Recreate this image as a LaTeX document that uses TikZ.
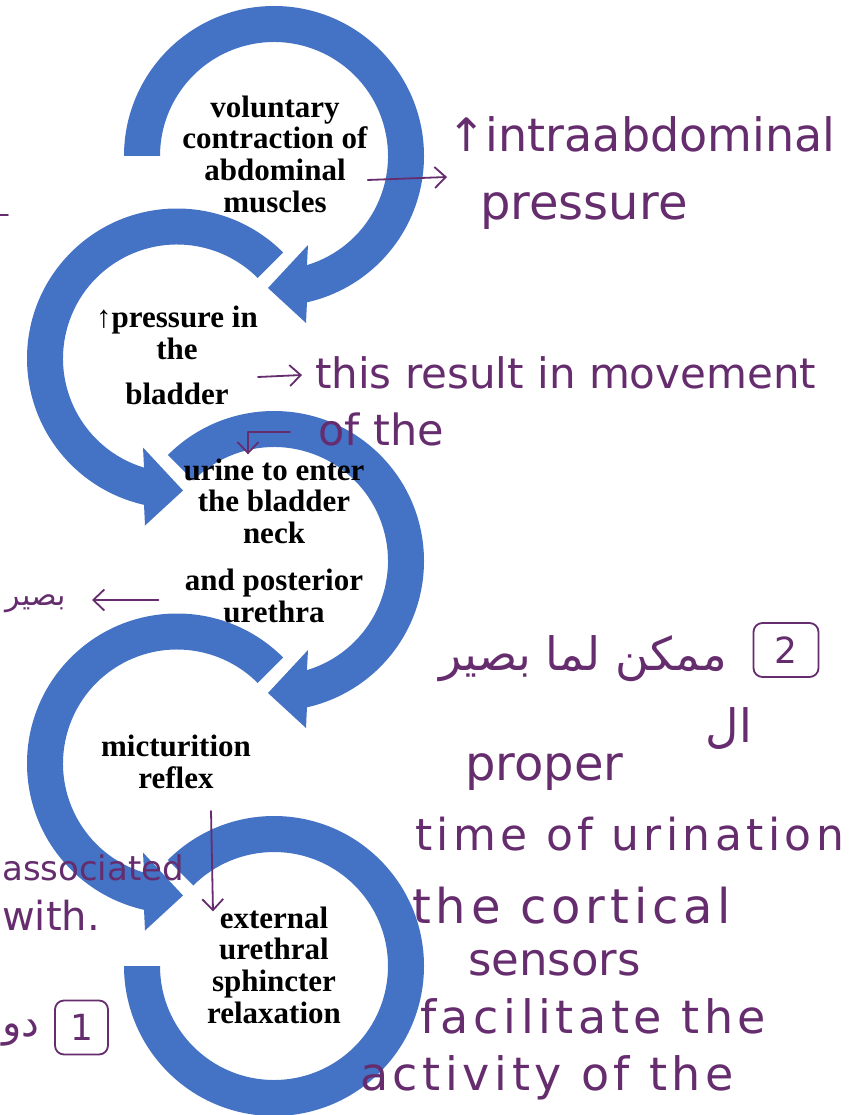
\documentclass[tikz,border=0pt]{standalone}
\usepackage{fontspec}
\setmainfont{Liberation Serif}
\newfontfamily\handfont{DejaVu Sans}
\newfontfamily\handwide{DejaVu Sans}[LetterSpace=10]
\newfontfamily\arabicfont[Script=Arabic]{DejaVu Sans}
\TeXXeTstate=1
\usetikzlibrary{arrows.meta}
\definecolor{ringblue}{HTML}{4472C4}
\definecolor{inkpurple}{RGB}{102,45,110}

\tikzset{
  ringarrow/.style={fill=ringblue},
  steptext/.style={font=\bfseries\fontsize{31}{31.7}\selectfont, align=center, inner sep=0pt},
  note/.style={anchor=base west, inner sep=0pt, text=inkpurple, font=\handfont\fontsize{#1}{#1}\selectfont},
  widenote/.style={anchor=base west, inner sep=0pt, text=inkpurple, font=\handwide\fontsize{#1}{#1}\selectfont},
  arabicnote/.style={anchor=base east, inner sep=0pt, text=inkpurple, font=\arabicfont\fontsize{#1}{#1}\selectfont},
  numbox/.style={draw=inkpurple, line width=1.8pt, rounded corners=9pt, inner sep=0pt, minimum height=54pt, text=inkpurple, font=\handfont\fontsize{36}{36}\selectfont},
  inkline/.style={draw=inkpurple, line width=1.8pt, line cap=round, line join=round},
  handarrow/.style={inkline, -{Straight Barb[length=11pt, width=21pt]}}
}

\begin{document}
\begin{tikzpicture}[x=1pt, y=1pt]
\useasboundingbox (0,0) rectangle (853,-1115);
\fill[white] (0,0) rectangle (853,-1115);

\coordinate (r1) at (274,-156);
\coordinate (r2) at (177,-358.5);
\coordinate (r3) at (274,-561);
\coordinate (r4) at (177,-763.5);
\coordinate (r5) at (274,-966);

\fill[ringarrow] ([shift={(180:150)}]r1) arc[start angle=180, end angle=-77.3, radius=150]
  -- ([shift={(32,-167)}]r1) -- ([shift={(-6,-132)}]r1) -- ([shift={(34,-89)}]r1)
  -- ([shift={(-73.2:114)}]r1) arc[start angle=-73.2, end angle=180, radius=114] -- cycle;
\fill[ringarrow] ([shift={(45:150)}]r2) arc[start angle=45, end angle=257.3, radius=150]
  -- ([shift={(-32,-167)}]r2) -- ([shift={(6,-132)}]r2) -- ([shift={(-34,-89)}]r2)
  -- ([shift={(253.2:114)}]r2) arc[start angle=253.2, end angle=45, radius=114] -- cycle;
\fill[ringarrow] ([shift={(135:150)}]r3) arc[start angle=135, end angle=-77.3, radius=150]
  -- ([shift={(32,-167)}]r3) -- ([shift={(-6,-132)}]r3) -- ([shift={(34,-89)}]r3)
  -- ([shift={(-73.2:114)}]r3) arc[start angle=-73.2, end angle=135, radius=114] -- cycle;
\fill[ringarrow] ([shift={(45:150)}]r4) arc[start angle=45, end angle=257.3, radius=150]
  -- ([shift={(-32,-167)}]r4) -- ([shift={(6,-132)}]r4) -- ([shift={(-34,-89)}]r4)
  -- ([shift={(253.2:114)}]r4) arc[start angle=253.2, end angle=45, radius=114] -- cycle;
\fill[ringarrow] ([shift={(135:150)}]r5) arc[start angle=135, end angle=-180, radius=150]
  -- ([shift={(-180:114)}]r5) arc[start angle=-180, end angle=135, radius=114] -- cycle;

\node[steptext] (voluntary) at (275,-154) {voluntary\\contraction of\\abdominal\\muscles};
\node[steptext] (pressure) at (177,-355.5) {↑pressure in\\the\\[13.3pt]bladder};
\node[steptext] (urine) at (274,-540.5) {urine to enter\\the bladder\\neck\\[15.3pt]and posterior\\urethra};
\node[steptext] (reflex) at (176,-762) {micturition\\reflex};
\node[steptext] (sphincter) at (274,-965) {external\\urethral\\sphincter\\relaxation};

\node[note=46] (intraabd) at (447,-152) {↑intraabdominal};
\node[note=48] (pressnote) at (480,-220) {pressure};
\node[note=42] (result) at (315,-388) {this result in movement};
\node[note=43] (ofthe) at (318,-445) {of the};

\node[arabicnote=46] (mumkin) at (727,-670) {\beginR ممكن لما بصير\endR};
\node[numbox, minimum width=65pt] (two) at (786,-650) {2};
\node[arabicnote=46] (al) at (752,-742) {\beginR ال\endR};
\node[note=48] (proper) at (465,-780) {proper};
\node[widenote=44] (time) at (415,-850) {time of urination};
\node[widenote=48] (cortical) at (412,-923) {the cortical};
\node[note=45] (sensors) at (468,-975) {sensors};
\node[widenote=46] (facilitate) at (420,-1033) {facilitate the};
\node[widenote=46] (activity) at (360,-1090) {activity of the};

\node[arabicnote=30] (bsir) at (66,-605) {\beginR بصير\endR};
\node[note=34] (assoc) at (2,-880) {associated};
\node[note=40] (with) at (2,-930) {with.};
\node[numbox, minimum width=53pt] (one) at (81.5,-1027.5) {1};
\node[arabicnote=40] (du) at (40,-1036) {\beginR دو\endR};

\draw[inkline] (0,-215) -- (8,-215);

\draw[handarrow] ([yshift=-26pt]voluntary.east) -- ([yshift=-25pt]intraabd.base west);
\draw[handarrow] ([yshift=-21.5pt]pressure.east) -- ([xshift=-13pt, yshift=13pt]result.base west);
\draw[handarrow] ([xshift=-28pt, yshift=13pt]ofthe.base west) -| ([xshift=-26pt, yshift=4pt]urine.north);
\draw[handarrow] ([xshift=-25pt, yshift=-59.5pt]urine.west) -- ([xshift=26pt, yshift=5pt]bsir.base east);
\draw[handarrow] ([xshift=35pt, yshift=-22pt]reflex.south) -- ([xshift=-61pt, yshift=-5pt]sphincter.north);
\end{tikzpicture}
\end{document}
